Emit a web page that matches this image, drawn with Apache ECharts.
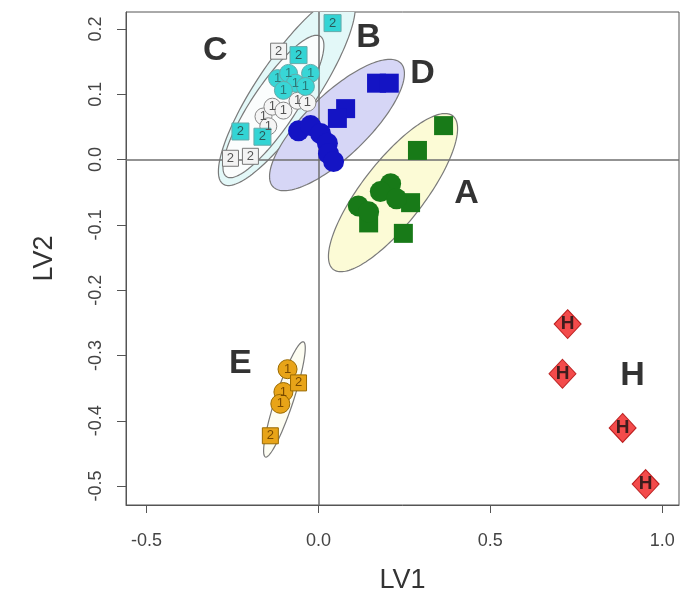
<!DOCTYPE html>
<html><head><meta charset="utf-8">
<script src="https://cdn.jsdelivr.net/npm/echarts@6/dist/echarts.min.js"></script>
<style>html,body{margin:0;padding:0;background:#fff}#c{width:687px;height:604px}</style>
</head><body><div id="c"></div>
<script>
// ---- data (LV1, LV2) ----
const xTicks = [-0.5, 0.0, 0.5, 1.0];
const yTicks = [-0.5, -0.4, -0.3, -0.2, -0.1, 0.0, 0.1, 0.2];

const groupA_sq = [[0.364,0.052],[0.288,0.014],[0.268,-0.066],[0.146,-0.097],[0.247,-0.113]];
const groupA_ci = [[0.210,-0.037],[0.180,-0.049],[0.116,-0.071],[0.146,-0.080],[0.227,-0.060]];
const groupD_sq = [[0.169,0.117],[0.206,0.117],[0.079,0.078],[0.055,0.063]];
const groupD_ci = [[-0.058,0.044],[-0.023,0.052],[0.006,0.040],[0.026,0.025],[0.029,0.009],[0.044,-0.003]];
const groupC_sq = [[0.041,0.209],[-0.058,0.160],[-0.227,0.043],[-0.163,0.035]];
const groupC_ci = [[-0.119,0.124],[-0.087,0.132],[-0.023,0.132],[-0.067,0.117],[-0.038,0.112],[-0.102,0.106]];
const groupB_sq = [[-0.116,0.166],[-0.256,0.002],[-0.198,0.005]];
const groupB_ci = [[-0.160,0.066],[-0.134,0.081],[-0.102,0.075],[-0.061,0.090],[-0.032,0.087],[-0.146,0.051]];
const groupE_ci = [[-0.090,-0.321],[-0.102,-0.356],[-0.111,-0.374]];
const groupE_sq = [[-0.058,-0.342],[-0.140,-0.423]];
const groupH = [[0.725,-0.252],[0.710,-0.328],[0.885,-0.411],[0.952,-0.497]];

// confidence ellipses: centre and two conjugate semi-axis vectors (data units)
const ellipseNames  = ['C','B','D','A','E'];
const ellipseCenter = [[-0.0920,0.1074],[-0.1310,0.0813],[0.0539,0.0529],[0.2169,-0.0506],[-0.0990,-0.3673]];
const ellipseAxis1  = [[0.1855,0.1449],[0.1368,0.1074],[0.1860,0.0946],[0.1738,0.1176],[0.0553,0.0882]];
const ellipseAxis2  = [[0.0725,-0.0258],[0.0533,-0.0189],[0.0626,-0.0342],[0.0713,-0.0291],[0.0248,-0.0043]];

// group label anchors (data units)
const groupLabels   = ['C','B','D','A','E','H'];
const groupLabelPos = [[-0.300,0.167],[0.146,0.186],[0.303,0.132],[0.431,-0.052],[-0.227,-0.313],[0.914,-0.331]];

// ---- styles ----
const ellipseFill = ['#e3f8f8','#fbfdfd','#d6d6f6','#fcfbd6','#fdfdf2'];
const FONT = 'Liberation Sans, Arial, sans-serif';

const chart = echarts.init(document.getElementById('c'));

function pts(group, sym, size, color, border, txt, txtColor) {
  return {
    type: 'scatter', z: 5, symbol: sym, symbolSize: size, data: group,
    itemStyle: {color: color, borderColor: border, borderWidth: border ? 1 : 0, opacity: 1},
    label: txt ? {show: true, position: 'inside', formatter: txt, color: txtColor, fontSize: 13, fontFamily: FONT, textBorderWidth: 0} : {show: false},
    emphasis: {disabled: true}, silent: true
  };
}

const option = {
  animation: false,
  backgroundColor: '#fff',
  grid: {left: 126, right: 8, top: 12, bottom: 99, show: true, borderColor: '#555', borderWidth: 1},
  xAxis: {
    type: 'value', min: -0.56, max: 1.049,
    name: 'LV1', nameLocation: 'middle', nameGap: 62,
    nameTextStyle: {fontSize: 27, color: '#333', fontFamily: FONT},
    splitLine: {show: false},
    axisLine: {show: true, onZero: false, lineStyle: {color: '#555'}},
    axisTick: {show: true, length: 8, customValues: xTicks, lineStyle: {color: '#555'}},
    axisLabel: {customValues: xTicks, margin: 27, fontSize: 18, color: '#444', fontFamily: FONT,
      formatter: v => v.toFixed(1)}
  },
  yAxis: {
    type: 'value', min: -0.529, max: 0.226,
    name: 'LV2', nameLocation: 'middle', nameGap: 68, nameRotate: 90,
    nameTextStyle: {fontSize: 27, color: '#333', fontFamily: FONT},
    splitLine: {show: false},
    axisLine: {show: true, onZero: false, lineStyle: {color: '#555'}},
    axisTick: {show: true, length: 9, customValues: yTicks, lineStyle: {color: '#555'}},
    axisLabel: {customValues: yTicks, margin: 21, rotate: 90, fontSize: 18, color: '#444', fontFamily: FONT,
      formatter: v => v.toFixed(1)}
  },
  series: [
    {
      type: 'custom', z: 1, clip: true, silent: true,
      data: ellipseCenter.map(c => [c[0], c[1]]),
      renderItem: function (params, api) {
        const i = params.dataIndex;
        const c = ellipseCenter[i], u = ellipseAxis1[i], v = ellipseAxis2[i];
        const p = [];
        for (let k = 0; k < 160; k++) {
          const t = 2 * Math.PI * k / 160;
          p.push(api.coord([c[0] + u[0] * Math.cos(t) + v[0] * Math.sin(t),
                            c[1] + u[1] * Math.cos(t) + v[1] * Math.sin(t)]));
        }
        return {type: 'polygon', shape: {points: p},
          style: {fill: ellipseFill[i], stroke: '#7a7a7a', lineWidth: 1.2}};
      }
    },
    {
      type: 'scatter', z: 3, data: [], silent: true,
      markLine: {silent: true, symbol: 'none', label: {show: false},
        lineStyle: {color: '#6f6f6f', width: 1.5, type: 'solid'},
        data: [{xAxis: 0}, {yAxis: 0}]}
    },
    pts(groupB_sq, 'rect', 16, '#f3f3f3', '#777', '2', '#555'),
    pts(groupB_ci, 'circle', 17, '#f5f5f5', '#888', '1', '#555'),
    pts(groupC_sq, 'rect', 17, '#33d4d4', '#6aa', '2', '#2a5a5a'),
    pts(groupC_ci, 'circle', 18, '#38d6d6', '#6aa', '1', '#2a7a7a'),
    pts(groupD_sq, 'rect', 19, '#1414c4', null, null),
    pts(groupD_ci, 'circle', 21, '#1414c4', null, null),
    pts(groupA_sq, 'rect', 19, '#187a18', null, null),
    pts(groupA_ci, 'circle', 21, '#187a18', null, null),
    pts(groupE_ci, 'circle', 19, '#e8a418', '#9a6a00', '1', '#7a4a00'),
    pts(groupE_sq, 'rect', 16, '#e8a418', '#9a6a00', '2', '#7a4a00'),
    {
      type: 'scatter', z: 6, symbol: 'diamond', symbolSize: [27, 29], data: groupH, silent: true,
      itemStyle: {color: '#f01e1e', borderColor: '#a00', borderWidth: 1},
      label: {show: true, position: 'inside', formatter: 'H', color: '#111', fontSize: 19, fontWeight: 'bold', fontFamily: FONT, textBorderWidth: 0}
    },
    {
      type: 'scatter', z: 7, symbolSize: 1, silent: true,
      data: groupLabelPos.map((p, i) => ({value: p, name: groupLabels[i]})),
      itemStyle: {color: 'rgba(0,0,0,0)'},
      label: {show: true, position: 'inside', formatter: '{b}', color: '#000', fontSize: 34, fontWeight: 'bold', fontFamily: FONT, textBorderWidth: 0}
    }
  ]
};
chart.setOption(option);
</script>
</body></html>
